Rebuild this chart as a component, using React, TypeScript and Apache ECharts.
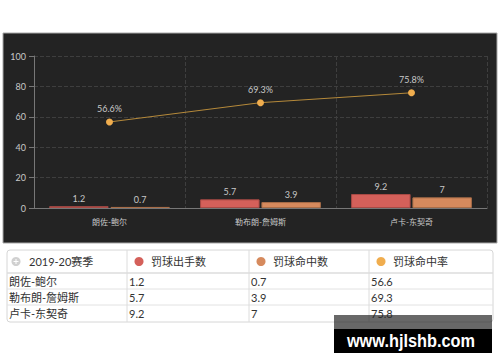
import React, { useEffect, useRef } from 'react';
import * as echarts from 'echarts';

const categories = ['朗佐-鲍尔', '勒布朗-詹姆斯', '卢卡-东契奇'];
const attempts = [1.2, 5.7, 9.2];
const made = [0.7, 3.9, 7];
const pct = [56.6, 69.3, 75.8];
const seasonLabel = '2019-20赛季';
const seriesNames = ['罚球出手数', '罚球命中数', '罚球命中率'];
const seriesColors = ['#d4605a', '#d68a5d', '#f0ad4e'];
const watermark = 'www.hjlshb.com';

const FONT = 'Lato, "Noto Sans CJK SC", sans-serif';

function buildTable(): any[] {
  const colX = [7, 127, 249, 369, 493];
  const rowY = [250, 273, 289, 305, 322];
  const els: any[] = [];
  els.push({
    type: 'rect',
    shape: { x: colX[0], y: rowY[0], width: colX[4] - colX[0], height: rowY[4] - rowY[0], r: 3 },
    style: { fill: '#ffffff', stroke: '#d6d6d6', lineWidth: 1 },
  });
  for (let i = 1; i < 4; i++) {
    els.push({
      type: 'line',
      shape: { x1: colX[0], y1: rowY[i], x2: colX[4], y2: rowY[i] },
      style: { stroke: i === 1 ? '#dcdcdc' : '#e2e2e2', lineWidth: i === 1 ? 1.5 : 1 },
    });
  }
  for (let i = 1; i < 4; i++) {
    els.push({
      type: 'line',
      shape: { x1: colX[i], y1: rowY[0], x2: colX[i], y2: rowY[4] },
      style: { stroke: '#dcdcdc', lineWidth: 1 },
    });
  }
  const headerY = (rowY[0] + rowY[1]) / 2;
  els.push({ type: 'circle', shape: { cx: 16, cy: headerY, r: 4.5 }, style: { fill: '#d0d0d0' } });
  els.push({ type: 'line', shape: { x1: 13.5, y1: headerY, x2: 18.5, y2: headerY }, style: { stroke: '#fff', lineWidth: 1 } });
  els.push({ type: 'line', shape: { x1: 16, y1: headerY - 2.5, x2: 16, y2: headerY + 2.5 }, style: { stroke: '#fff', lineWidth: 1 } });
  els.push({
    type: 'text', x: 29, y: headerY,
    style: { text: seasonLabel, fill: '#333', font: `11px ${FONT}`, textVerticalAlign: 'middle' },
  });
  for (let c = 0; c < 3; c++) {
    els.push({ type: 'circle', shape: { cx: colX[c + 1] + 12, cy: headerY, r: 4.5 }, style: { fill: seriesColors[c] } });
    els.push({
      type: 'text', x: colX[c + 1] + 24, y: headerY,
      style: { text: seriesNames[c], fill: '#333', font: `11px ${FONT}`, textVerticalAlign: 'middle' },
    });
  }
  const cols = [categories, attempts, made, pct];
  for (let r = 0; r < categories.length; r++) {
    const cy = (rowY[r + 1] + rowY[r + 2]) / 2;
    for (let c = 0; c < 4; c++) {
      els.push({
        type: 'text', x: colX[c] + 2, y: cy,
        style: { text: String(cols[c][r]), fill: '#333', font: `11px ${FONT}`, textVerticalAlign: 'middle' },
      });
    }
  }
  return els;
}

export default function App() {
  const ref = useRef<HTMLDivElement>(null);
  useEffect(() => {
    if (!ref.current) return;
    const chart = echarts.init(ref.current, undefined, { renderer: 'svg' });
    const labelStyle = { color: '#c8c8c8', fontSize: 9, fontFamily: FONT };
    chart.setOption({
      animation: false,
      backgroundColor: '#ffffff',
      grid: { left: 34, right: 13, top: 56, bottom: 154 },
      xAxis: {
        type: 'category',
        data: categories,
        axisLine: { lineStyle: { color: '#777' } },
        axisTick: { alignWithLabel: true, lineStyle: { color: '#777' } },
        axisLabel: { color: '#c8c8c8', fontSize: 8, fontFamily: FONT, margin: 10 },
        splitLine: { show: true, lineStyle: { color: '#3e3e3e', type: 'dashed' } },
      },
      yAxis: {
        type: 'value',
        min: 0,
        max: 100,
        interval: 20,
        axisLine: { show: true, lineStyle: { color: '#777' } },
        axisTick: { show: true, lineStyle: { color: '#777' } },
        axisLabel: { color: '#c8c8c8', fontSize: 9, fontFamily: FONT, margin: 8 },
        splitLine: { lineStyle: { color: '#3e3e3e', type: 'dashed' } },
      },
      graphic: [
        {
          type: 'rect', z: -10, silent: true,
          shape: { x: 3, y: 33, width: 494, height: 210 },
          style: { fill: '#232323', stroke: '#a8a8a8', lineWidth: 1 },
        },
        ...buildTable(),
        {
          type: 'rect', z: 100,
          shape: { x: 334, y: 315, width: 158, height: 14 },
          style: { fill: 'rgba(40,40,40,0.7)' },
        },
        {
          type: 'rect', z: 100,
          shape: { x: 334, y: 329, width: 158, height: 24 },
          style: { fill: '#000000' },
        },
        {
          type: 'text', z: 101, x: 411, y: 341, scaleX: 0.86,
          style: {
            text: watermark, fill: '#ffffff', font: `bold 19px "Liberation Sans", Arial, sans-serif`,
            textAlign: 'center', textVerticalAlign: 'middle',
          },
        },
      ],
      series: [
        {
          name: seriesNames[0], type: 'bar', data: attempts,
          barCategoryGap: '20%', barGap: '3%',
          itemStyle: { color: seriesColors[0], borderColor: '#a84a45', borderWidth: 1 },
          label: { show: true, position: 'top', ...labelStyle, distance: 3 },
        },
        {
          name: seriesNames[1], type: 'bar', data: made,
          itemStyle: { color: seriesColors[1], borderColor: '#a86d48', borderWidth: 1 },
          label: { show: true, position: 'top', ...labelStyle, distance: 3 },
        },
        {
          name: seriesNames[2], type: 'line', data: pct,
          symbol: 'circle', symbolSize: 7,
          lineStyle: { color: '#b5893a', width: 1 },
          itemStyle: { color: seriesColors[2] },
          label: { show: true, position: 'top', ...labelStyle, formatter: '{c}%' },
        },
      ],
    });
    return () => chart.dispose();
  }, []);
  return (
    <div
      ref={ref}
      style={{ position: 'absolute', left: 0, top: 0, width: 500, height: 362 }}
    />
  );
}
